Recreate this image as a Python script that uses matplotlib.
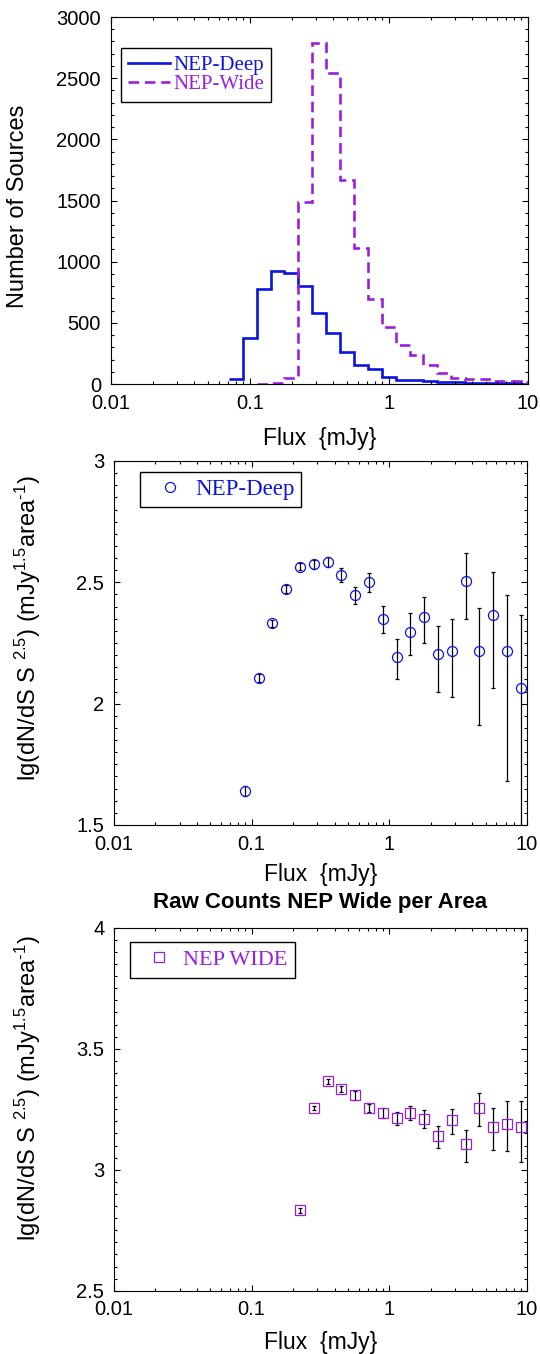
import numpy as np
import matplotlib
matplotlib.use('Agg')
import matplotlib.pyplot as plt
from matplotlib.ticker import MultipleLocator, LogLocator, FuncFormatter, NullFormatter

# ---------------- data ----------------
# histogram bin edges (log10 of flux in mJy)
deep_lg_edges = [-1.15, -1.05, -0.95, -0.85, -0.75, -0.65, -0.55, -0.45, -0.35, -0.25, -0.15, -0.05,
                 0.05, 0.15, 0.25, 0.35, 0.45, 0.55, 0.65, 0.75, 0.85, 0.95, 1.05]
deep_counts = [38, 376, 780, 927, 908, 802, 578, 420, 265, 153, 123, 57,
               35, 30, 22, 18, 14, 11, 9, 7, 5, 4]
wide_lg_edges = [-0.95, -0.85, -0.75, -0.65, -0.55, -0.45, -0.35, -0.25, -0.15, -0.05,
                 0.05, 0.15, 0.25, 0.35, 0.45, 0.55, 0.65, 0.75, 0.85, 0.95, 1.05]
wide_counts = [2, 5, 50, 1484, 2784, 2542, 1666, 1113, 698, 469,
               316, 235, 153, 93, 49, 41, 38, 25, 22, 15]

# NEP-Deep differential counts
deep_flux = [0.0895, 0.113, 0.141, 0.179, 0.224, 0.282, 0.356, 0.448, 0.566, 0.711, 0.895,
             1.13, 1.42, 1.79, 2.26, 2.84, 3.58, 4.51, 5.66, 7.11, 8.99]
deep_y = [1.640, 2.106, 2.331, 2.473, 2.565, 2.574, 2.584, 2.532, 2.448, 2.500, 2.349,
          2.191, 2.295, 2.356, 2.205, 2.217, 2.504, 2.217, 2.365, 2.216, 2.063]
deep_err_hi = [0.019, 0.015, 0.015, 0.014, 0.015, 0.017, 0.019, 0.027, 0.034, 0.037, 0.054,
               0.074, 0.077, 0.085, 0.115, 0.132, 0.115, 0.176, 0.176, 0.232, 0.302]
deep_err_lo = [0.020, 0.016, 0.015, 0.015, 0.015, 0.017, 0.020, 0.029, 0.038, 0.041, 0.059,
               0.088, 0.093, 0.107, 0.157, 0.191, 0.157, 0.305, 0.302, 0.534, 1.000]

# NEP-Wide differential counts
wide_flux = [0.224, 0.282, 0.356, 0.448, 0.566, 0.711, 0.895, 1.13, 1.42, 1.79, 2.26,
             2.84, 3.58, 4.51, 5.66, 7.11, 8.99]
wide_y = [2.832, 3.255, 3.365, 3.332, 3.307, 3.255, 3.236, 3.212, 3.236, 3.209, 3.138,
          3.204, 3.105, 3.253, 3.175, 3.189, 3.175]
wide_err_hi = [0.010, 0.010, 0.011, 0.012, 0.017, 0.018, 0.019, 0.026, 0.028, 0.036, 0.044,
               0.047, 0.061, 0.065, 0.081, 0.094, 0.107]
wide_err_lo = [0.010, 0.010, 0.011, 0.012, 0.017, 0.017, 0.021, 0.026, 0.029, 0.036, 0.047,
               0.055, 0.073, 0.072, 0.092, 0.113, 0.143]

x_ticks = [0.01, 0.1, 1, 10]

# ---------------- style ----------------
BLUE = '#0a14e0'
PURPLE = '#9a1ee0'
plt.rcParams['font.family'] = ['Liberation Sans', 'DejaVu Sans']
plt.rcParams['mathtext.fontset'] = 'custom'
plt.rcParams['mathtext.rm'] = 'Liberation Sans'
plt.rcParams['mathtext.it'] = 'Liberation Sans:italic'
plt.rcParams['axes.linewidth'] = 0.8

TICK_FS = 14.5
LABEL_FS = 16.5
YLABEL_FS = 17
SERIF = 'Liberation Serif'

fig = plt.figure(figsize=(5.4, 13.54), dpi=100)
W, H = 540.0, 1354.0


def add_ax(l, t, r, b):
    return fig.add_axes([l / W, 1 - b / H, (r - l) / W, (b - t) / H])


def style_x(ax, labelpad):
    ax.set_xscale('log')
    ax.set_xlim(0.01, 10)
    ax.set_xticks(x_ticks)
    ax.xaxis.set_major_formatter(FuncFormatter(lambda v, p: f'{v:g}'))
    ax.xaxis.set_minor_locator(LogLocator(base=10, subs=np.arange(2, 10)))
    ax.xaxis.set_minor_formatter(NullFormatter())
    ax.tick_params(which='both', direction='in', top=True, right=True, width=0.8,
                   labelsize=TICK_FS, pad=7)
    ax.tick_params(which='major', length=4.5)
    ax.tick_params(which='minor', length=2.3)
    ax.set_xlabel('Flux  {mJy}', fontsize=LABEL_FS, labelpad=labelpad)


# ---------------- panel 1: histogram ----------------
ax1 = add_ax(110.7, 17, 527.7, 384)
ax1.stairs(deep_counts, [10 ** e for e in deep_lg_edges], baseline=None,
           color=BLUE, lw=1.9, label='NEP-Deep')
ax1.stairs(wide_counts, [10 ** e for e in wide_lg_edges], baseline=None,
           color=PURPLE, lw=1.9, ls=(0, (4, 2.2)), label='NEP-Wide')
style_x(ax1, 10)
ax1.set_ylim(0, 3000)
ax1.yaxis.set_major_locator(MultipleLocator(500))
ax1.yaxis.set_minor_locator(MultipleLocator(100))
ax1.set_ylabel('Number of Sources', fontsize=YLABEL_FS)
ax1.yaxis.set_label_coords(-0.195, 0.484)
leg1 = ax1.legend(loc='upper left', bbox_to_anchor=(0.0247, 0.9155), borderaxespad=0,
                  fancybox=False, edgecolor='black', framealpha=1,
                  prop={'family': SERIF, 'size': 15}, handlelength=2.0, handletextpad=0.15,
                  borderpad=0.35, labelspacing=0.0, labelcolor=[BLUE, PURPLE])
leg1.get_frame().set_linewidth(1.0)

ylab2 = 'lg(dN/dS S $^{\\mathregular{2.5}}$) (mJy$^{\\mathregular{1.5}}$area$^{\\mathregular{\u20101}}$)'

# ---------------- panel 2: NEP-Deep ----------------
ax2 = add_ax(114, 461, 527, 825)
ax2.errorbar(deep_flux, deep_y, yerr=[deep_err_lo, deep_err_hi], fmt='none',
             ecolor='black', elinewidth=0.9, capsize=1.6, capthick=0.9, zorder=2)
h2, = ax2.plot(deep_flux, deep_y, ls='none', marker='o', ms=7.2, mfc='none',
               mec=BLUE, mew=0.9, label='NEP-Deep', zorder=3)
style_x(ax2, 7)
ax2.set_ylim(1.5, 3)
ax2.set_yticks([1.5, 2, 2.5, 3])
ax2.yaxis.set_major_formatter(FuncFormatter(lambda v, p: f'{v:g}'))
ax2.yaxis.set_minor_locator(MultipleLocator(0.05))
ax2.set_ylabel(ylab2, fontsize=YLABEL_FS)
ax2.yaxis.set_label_coords(-0.172, 0.541)
leg2 = ax2.legend(handles=[h2], loc='upper left', bbox_to_anchor=(0.063, 0.970),
                  borderaxespad=0, fancybox=False, edgecolor='black', framealpha=1,
                  prop={'family': SERIF, 'size': 16.5}, handlelength=2.0,
                  handletextpad=0.1, borderpad=0.3, numpoints=1, labelcolor=[BLUE])
leg2.get_frame().set_linewidth(1.0)

# ---------------- panel 3: NEP-Wide ----------------
ax3 = add_ax(114, 927.7, 527, 1290.7)
ax3.errorbar(wide_flux, wide_y, yerr=[wide_err_lo, wide_err_hi], fmt='none',
             ecolor='black', elinewidth=0.9, capsize=1.4, capthick=0.9, zorder=2)
h3, = ax3.plot(wide_flux, wide_y, ls='none', marker='s', ms=6.5, mfc='none',
               mec=PURPLE, mew=0.9, label='NEP WIDE', zorder=3)
style_x(ax3, 8)
ax3.set_ylim(2.5, 4)
ax3.set_yticks([2.5, 3, 3.5, 4])
ax3.yaxis.set_major_formatter(FuncFormatter(lambda v, p: f'{v:g}'))
ax3.yaxis.set_minor_locator(MultipleLocator(0.05))
ax3.set_ylabel(ylab2, fontsize=YLABEL_FS)
ax3.yaxis.set_label_coords(-0.172, 0.559)
ax3.set_title('Raw Counts NEP Wide per Area', fontsize=16, fontweight='bold', pad=14)
leg3 = ax3.legend(handles=[h3], loc='upper left', bbox_to_anchor=(0.0387, 0.961),
                  borderaxespad=0, fancybox=False, edgecolor='black', framealpha=1,
                  prop={'family': SERIF, 'size': 16}, handlelength=1.9,
                  handletextpad=0.15, borderpad=0.35, numpoints=1, labelcolor=[PURPLE])
leg3.get_frame().set_linewidth(1.0)

fig.savefig('out.png', dpi=100)
